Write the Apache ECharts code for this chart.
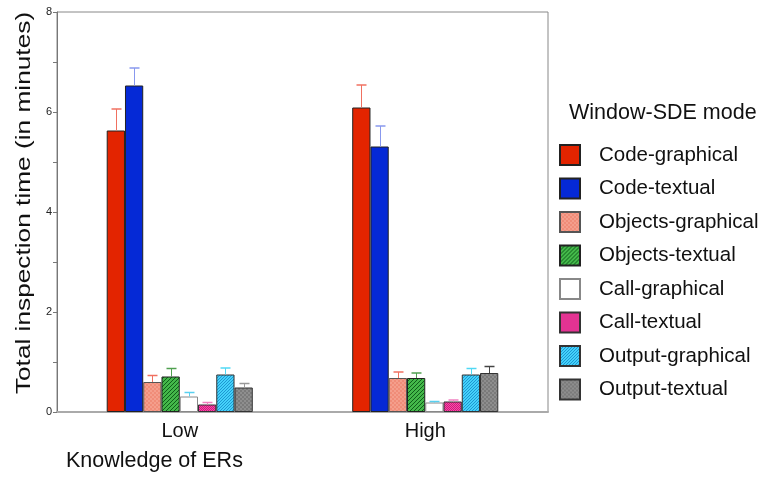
<!DOCTYPE html>
<html>
<head>
<meta charset="utf-8">
<style>
  html, body { margin: 0; padding: 0; background: #fff; }
  #main { width: 766px; height: 477px; }
</style>
<script src="https://cdn.jsdelivr.net/npm/echarts@6/dist/echarts.min.js"></script>
</head>
<body>
<div id="main"></div>
<script>
var categories = ['Low', 'High'];
var seriesNames = ['Code-graphical', 'Code-textual', 'Objects-graphical', 'Objects-textual',
  'Call-graphical', 'Call-textual', 'Output-graphical', 'Output-textual'];
// means, in legend order
var lowMeans = [5.63, 6.53, 0.6, 0.71, 0.31, 0.15, 0.75, 0.49];
var highMeans = [6.09, 5.31, 0.68, 0.68, 0.19, 0.21, 0.75, 0.78];
// error bar heights (one side only)
var lowErr = [0.43, 0.35, 0.13, 0.16, 0.08, 0.04, 0.13, 0.08];
var highErr = [0.45, 0.41, 0.12, 0.10, 0.02, 0.03, 0.12, 0.13];
var yTicks = [0, 2, 4, 6, 8];

var FONT = "'Liberation Sans', Arial, Helvetica, sans-serif";
var GAP = 0.405;

// small canvas tiles for the hatched fills
function tile(size, bg, fg, test) {
  var c = document.createElement('canvas');
  c.width = size; c.height = size;
  var ctx = c.getContext('2d');
  ctx.fillStyle = bg;
  ctx.fillRect(0, 0, size, size);
  ctx.fillStyle = fg;
  for (var x = 0; x < size; x++) {
    for (var y = 0; y < size; y++) {
      if (test(x, y)) ctx.fillRect(x, y, 1, 1);
    }
  }
  return { image: c, repeat: 'repeat' };
}
var checker = function (x, y) { return ((x + y) % 2) === 0; };
var checker2 = function (x, y) { return ((Math.floor(x / 2) + Math.floor(y / 2)) % 2) === 0; };
var slash = function (x, y) { return ((x + y) % 4) === 0; };
var slash3 = function (x, y) { return ((x + y) % 3) === 0; };

var fills = [
  '#e32400',
  '#0529d6',
  tile(4, '#f08c78', '#f49e8c', checker2),
  tile(4, '#44b84a', '#0f5f1a', slash),
  '#ffffff',
  tile(4, '#ff46a6', '#c8207e', checker),
  tile(3, '#44d2fa', '#1e96d2', slash3),
  tile(4, '#7a7a7a', '#8e8e8e', checker2)
];
var borders = ['#222', '#222', '#555', '#222', '#888', '#333', '#333', '#333'];
var errColors = ['#f07060', '#8898ee', '#f07060', '#50a050', '#58d0f0', '#f080c0', '#50d8f4', '#999999'];

var series = seriesNames.map(function (name, i) {
  var s = {
    name: name,
    type: 'bar',
    data: [lowMeans[i], highMeans[i]],
    itemStyle: { color: fills[i], borderColor: borders[i], borderWidth: 1 },
    emphasis: { disabled: true }
  };
  if (i === 0) {
    s.barGap = '0%';
    s.barCategoryGap = (GAP * 100) + '%';
  }
  return s;
});

var errData = [];
[lowMeans, highMeans].forEach(function (means, c) {
  var errs = c === 0 ? lowErr : highErr;
  means.forEach(function (m, s) {
    errData.push([c, s, m, errs[s]]);
  });
});

series.push({
  type: 'custom',
  data: errData,
  encode: { x: 0, y: 2 },
  silent: true,
  z: 3,
  renderItem: function (params, api) {
    var c = api.value(0), s = api.value(1), m = api.value(2), e = api.value(3);
    var band = api.size([1, 0])[0];
    var bw = band * (1 - GAP) / 8;
    var base = api.coord([c, m]);
    var top = api.coord([c, m + e]);
    var x = Math.round(base[0] + (s - 3.5) * bw) + 0.5;
    var col = (c === 1 && s === 7) ? '#444' : errColors[s];
    return {
      type: 'group',
      children: [
        { type: 'line', shape: { x1: x, y1: base[1], x2: x, y2: top[1] }, style: { stroke: col, lineWidth: 1 } },
        { type: 'line', shape: { x1: x - 5, y1: top[1], x2: x + 5, y2: top[1] }, style: { stroke: col, lineWidth: 1.5 } }
      ]
    };
  }
});

var chart = echarts.init(document.getElementById('main'));
chart.setOption({
  animation: false,
  textStyle: { fontFamily: FONT },
  title: {
    text: 'Knowledge of ERs',
    left: 66,
    top: 450,
    padding: 0,
    textStyle: { fontFamily: FONT, fontSize: 21.5, fontWeight: 'normal', color: '#111' }
  },
  graphic: [{
    type: 'text',
    left: 569,
    top: 102,
    style: { text: 'Window-SDE mode', font: '21.5px ' + FONT, fill: '#111' }
  }, {
    // y axis title, stretched along its length like the original
    type: 'text',
    x: 24,
    y: 203,
    rotation: Math.PI / 2,
    scaleX: 1.25,
    style: {
      text: 'Total inspection time (in minutes)',
      font: '21px ' + FONT,
      fill: '#111',
      align: 'center',
      verticalAlign: 'middle'
    }
  }],
  legend: {
    data: seriesNames,
    orient: 'vertical',
    left: 559,
    top: 144,
    padding: 0,
    itemWidth: 20,
    itemHeight: 20,
    itemGap: 11.5,
    icon: 'rect',
    selectedMode: false,
    textStyle: { fontFamily: FONT, fontSize: 20.5, color: '#111', padding: [2, 0, 0, 14] }
  },
  grid: {
    left: 57,
    right: 218,
    top: 12,
    bottom: 65,
    show: true,
    borderColor: '#888',
    borderWidth: 1
  },
  xAxis: {
    type: 'category',
    data: categories,
    axisLine: { lineStyle: { color: '#aaa', width: 2 } },
    axisTick: { alignWithLabel: true, length: 3, lineStyle: { color: '#999' } },
    axisLabel: { fontSize: 20, color: '#111', margin: 9, fontFamily: FONT }
  },
  yAxis: {
    type: 'value',
    min: yTicks[0],
    max: yTicks[yTicks.length - 1],
    interval: 2,
    axisLine: { show: true, lineStyle: { color: '#777' } },
    axisTick: { show: true, length: 4, lineStyle: { color: '#777' } },
    minorTick: { show: true, splitNumber: 2, length: 4, lineStyle: { color: '#777' } },
    splitLine: { show: false },
    axisLabel: { fontSize: 11, color: '#222', margin: 5, fontFamily: FONT }
  },
  series: series
});
</script>
</body>
</html>
